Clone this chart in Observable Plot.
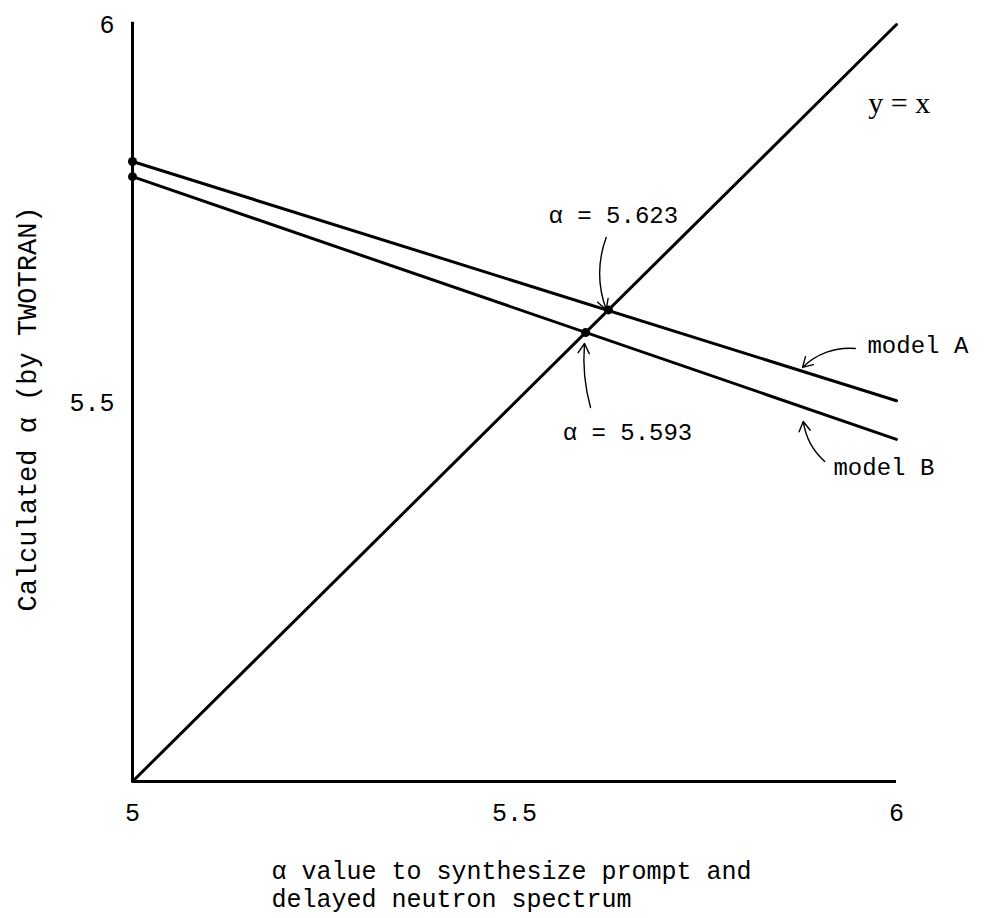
<!DOCTYPE html>
<html>
<head>
<meta charset="utf-8">
<script src="https://cdn.jsdelivr.net/npm/d3@7"></script>
<script src="https://cdn.jsdelivr.net/npm/@observablehq/plot@0.6"></script>
<style>
  body { margin: 0; background: #fff; }
</style>
</head>
<body>
<div id="chart"></div>
<script>
// Axis ticks
const xTicks = [5, 5.5, 6];
const yTicks = [5.5, 6];

// y = x reference line
const identityX = [5, 6];
const identityY = [5, 6];

// Calculated α (TWOTRAN) against the synthesis α, two spectrum models
const modelAX = [5, 6];
const modelAY = [5.819, 5.503];
const modelBX = [5, 6];
const modelBY = [5.799, 5.452];

// Self-consistent α where each model meets y = x
const crossings = [5.623, 5.593];

// Annotation texts and their anchor points (data units)
const labelText = ["α = 5.623", "α = 5.593", "model A", "model B"];
const labelX = [5.5445, 5.563, 5.962, 5.9175];
const labelY = [5.7477, 5.461, 5.576, 5.415];
const identityLabel = "y = x";
const identityLabelX = 5.963;
const identityLabelY = 5.8956;

// Curved pointer arrows: start, end, bend
const arrowX1 = [5.620, 5.5995, 5.946, 5.906];
const arrowY1 = [5.7186, 5.494, 5.572, 5.4227];
const arrowX2 = [5.620, 5.5916, 5.877, 5.878];
const arrowY2 = [5.6235, 5.5786, 5.547, 5.4756];
const arrowBend = [-20, 10, -25, 20];

const xTitleLines = ["α value to synthesize prompt and", "delayed neutron spectrum"];
const yTitle = "Calculated α (by TWOTRAN)";

const mono = "'Liberation Mono', 'DejaVu Sans Mono', monospace";
const serif = "'Liberation Serif', 'DejaVu Serif', serif";

const endDots = [
  {x: modelAX[0], y: modelAY[0]},
  {x: modelBX[0], y: modelBY[0]},
  ...crossings.map(c => ({x: c, y: c}))
];

const arrows = arrowX1.map((_, i) =>
  Plot.arrow([i], {
    x1: [arrowX1[i]], y1: [arrowY1[i]],
    x2: [arrowX2[i]], y2: [arrowY2[i]],
    bend: arrowBend[i],
    stroke: "#000",
    strokeWidth: 1.4,
    headLength: 12
  })
);

// Two-line x-axis title, one text mark per line below the frame
const xTitleMarks = xTitleLines.map((line, i) =>
  Plot.text([line], {frameAnchor: "bottom-left", dx: 139, dy: 97 + i * 28, textAnchor: "start", fontSize: 25})
);

const chart = Plot.plot({
  width: 984,
  height: 918,
  marginLeft: 132,
  marginRight: 88,
  marginTop: 24,
  marginBottom: 137,
  style: {fontFamily: mono, fontSize: "24px", color: "#000", background: "#fff", overflow: "visible"},
  x: {domain: [5, 6]},
  y: {domain: [5, 6]},
  marks: [
    Plot.axisX(xTicks, {tickSize: 0, tickPadding: 22, tickFormat: d => String(d), label: null, fontSize: 25}),
    Plot.axisY(yTicks, {tickSize: 0, tickPadding: 18, tickFormat: d => String(d), label: null, fontSize: 25}),
    Plot.ruleX([5], {y1: 5, y2: 6.003, stroke: "#000", strokeWidth: 3}),
    Plot.ruleY([5], {x1: 5, x2: 6, stroke: "#000", strokeWidth: 3}),
    Plot.line(identityY, {x: identityX, y: identityY, stroke: "#000", strokeWidth: 3}),
    Plot.line(modelAY, {x: modelAX, y: modelAY, stroke: "#000", strokeWidth: 3}),
    Plot.line(modelBY, {x: modelBX, y: modelBY, stroke: "#000", strokeWidth: 3}),
    Plot.dot(endDots, {x: "x", y: "y", r: 4.5, fill: "#000"}),
    ...arrows,
    Plot.text(labelText, {x: labelX, y: labelY, text: d => d, textAnchor: "start", fontSize: 24}),
    Plot.text([identityLabel], {x: [identityLabelX], y: [identityLabelY], text: d => d, textAnchor: "start", fontFamily: serif, fontSize: 30}),
    ...xTitleMarks,
    Plot.text([yTitle], {frameAnchor: "left", dx: -105, dy: 6, rotate: -90, textAnchor: "middle", fontSize: 27})
  ]
});

document.getElementById("chart").appendChild(chart);
</script>
</body>
</html>
